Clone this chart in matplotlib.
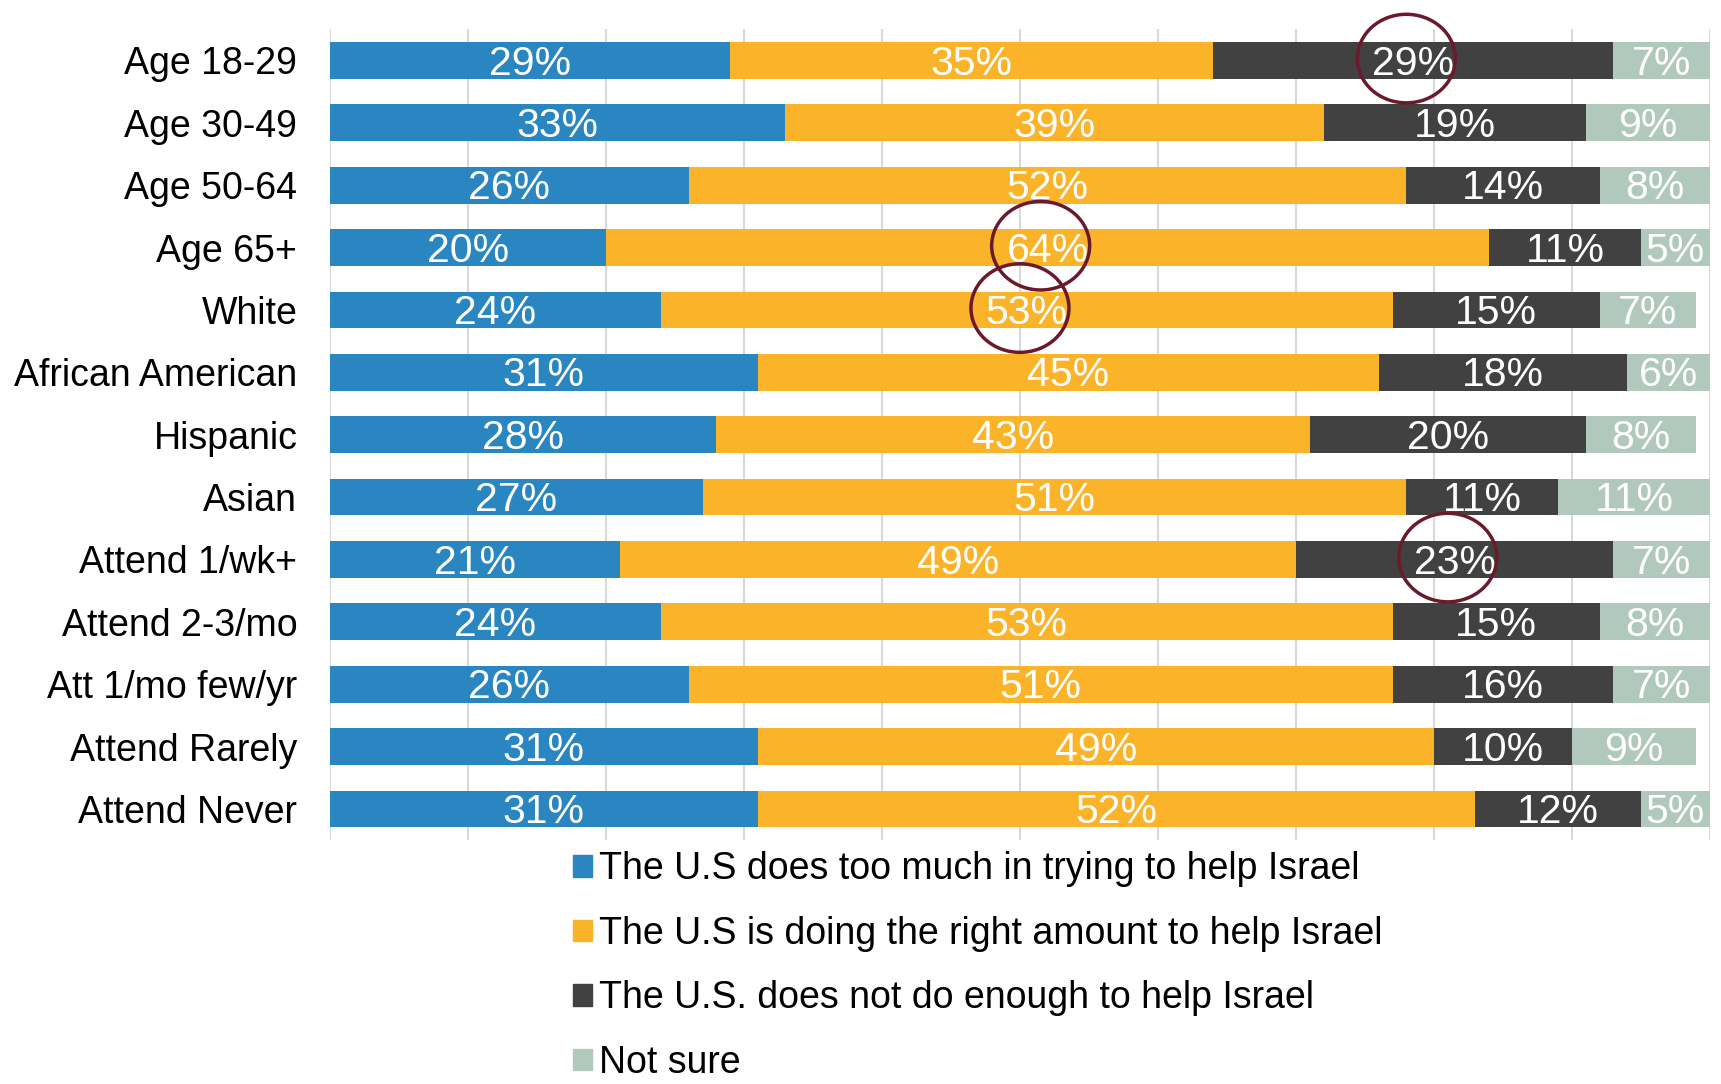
import numpy as np
import matplotlib.pyplot as plt
from matplotlib.patches import Patch, Ellipse

plt.rcParams['font.family'] = ['Liberation Sans', 'DejaVu Sans']

categories = ['Age 18-29', 'Age 30-49', 'Age 50-64', 'Age 65+', 'White',
              'African American', 'Hispanic', 'Asian', 'Attend 1/wk+',
              'Attend 2-3/mo', 'Att 1/mo few/yr', 'Attend Rarely', 'Attend Never']
too_much = [29, 33, 26, 20, 24, 31, 28, 27, 21, 24, 26, 31, 31]
right_amount = [35, 39, 52, 64, 53, 45, 43, 51, 49, 53, 51, 49, 52]
not_enough = [29, 19, 14, 11, 15, 18, 20, 11, 23, 15, 16, 10, 12]
not_sure = [7, 9, 8, 5, 7, 6, 8, 11, 7, 8, 7, 9, 5]

series_names = ['The U.S does too much in trying to help Israel',
                'The U.S is doing the right amount to help Israel',
                'The U.S. does not do enough to help Israel',
                'Not sure']
colors = ['#2986C0', '#FBB429', '#414142', '#B1C9BC']

# (row, series) of the labels circled in the original
circled = [(0, 2), (3, 1), (4, 1), (8, 2)]

series = [too_much, right_amount, not_enough, not_sure]

fig = plt.figure(figsize=(17.21, 10.84), dpi=100)
ax = fig.add_axes([0.1917, 0.225, 0.8019, 0.748])

y = np.arange(len(categories))
left = np.zeros(len(categories))
centers = []
for vals, col in zip(series, colors):
    vals = np.array(vals, dtype=float)
    ax.barh(y, vals, left=left, height=0.59, color=col, zorder=2)
    mid = left + vals / 2
    centers.append(mid)
    for yi, m, v in zip(y, mid, vals):
        ax.text(m, yi + 0.05, f'{int(v)}%', ha='center', va='center',
                color='white', fontsize=29.5, zorder=3)
    left = left + vals

for row, s in circled:
    ax.add_patch(Ellipse((centers[s][row] - 0.5, row - 0.03), width=7.1, height=1.42,
                         fill=False, edgecolor='#6B1A2B', linewidth=2.5,
                         zorder=4, clip_on=False))

ax.set_xlim(0, 100)
ax.set_ylim(len(categories) - 0.5, -0.5)
ax.set_xticks(np.arange(0, 101, 10))
ax.set_xticklabels([])
ax.set_yticks(y)
ax.set_yticklabels(categories, fontsize=27)
ax.tick_params(axis='both', length=0, pad=23.5)
ax.grid(axis='x', color='#D9D9D9', linewidth=1.5, zorder=0)
for sp in ax.spines.values():
    sp.set_visible(False)

handles = [Patch(color=c) for c in colors]
fig.legend(handles, series_names, loc='upper left',
           bbox_to_anchor=(0.333, 0.2147), frameon=False, fontsize=27,
           handlelength=0.5, handleheight=0.5, handletextpad=0.2,
           labelspacing=0.76, borderpad=0, borderaxespad=0)

fig.savefig('out.png', dpi=100)
